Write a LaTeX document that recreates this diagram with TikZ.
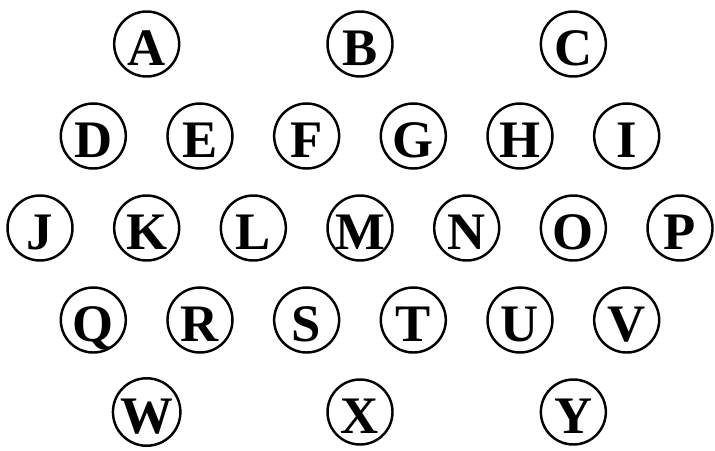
\documentclass[tikz,border=0pt]{standalone}
\usepackage{fontspec}
\setmainfont{Liberation Serif}
\usetikzlibrary{positioning}
\tikzset{letterdisc/.style={circle,draw,line width=1.4pt,minimum size=1.3cm,inner sep=0pt,
  font=\bfseries\fontsize{30}{30}\selectfont,text height=24pt,text depth=0pt}}

\begin{document}
\begin{tikzpicture}[x=0.02cm,y=-0.02cm]
\useasboundingbox (0,0) rectangle (715,450);
% top and bottom rows: three discs
\foreach \k/\lab in {1/A,3/B,5/C}{ \node[letterdisc] (\lab) at (40+106.67*\k,44) {\lab};}
\foreach \k/\lab in {1/W,3/X,5/Y}{ \node[letterdisc] (\lab) at (40+106.67*\k,412) {\lab};}
% second and fourth rows: six discs, shifted half a step
\foreach \k/\lab in {0/D,1/E,2/F,3/G,4/H,5/I}{ \node[letterdisc] (\lab) at (93.3+106.67*\k,136) {\lab};}
\foreach \k/\lab in {0/Q,1/R,2/S,3/T,4/U,5/V}{ \node[letterdisc] (\lab) at (93.3+106.67*\k,320) {\lab};}
% middle row: seven discs
\foreach \k/\lab in {0/J,1/K,2/L,3/M,4/N,5/O,6/P}{ \node[letterdisc] (\lab) at (40+106.67*\k,228) {\lab};}
\end{tikzpicture}
\end{document}
